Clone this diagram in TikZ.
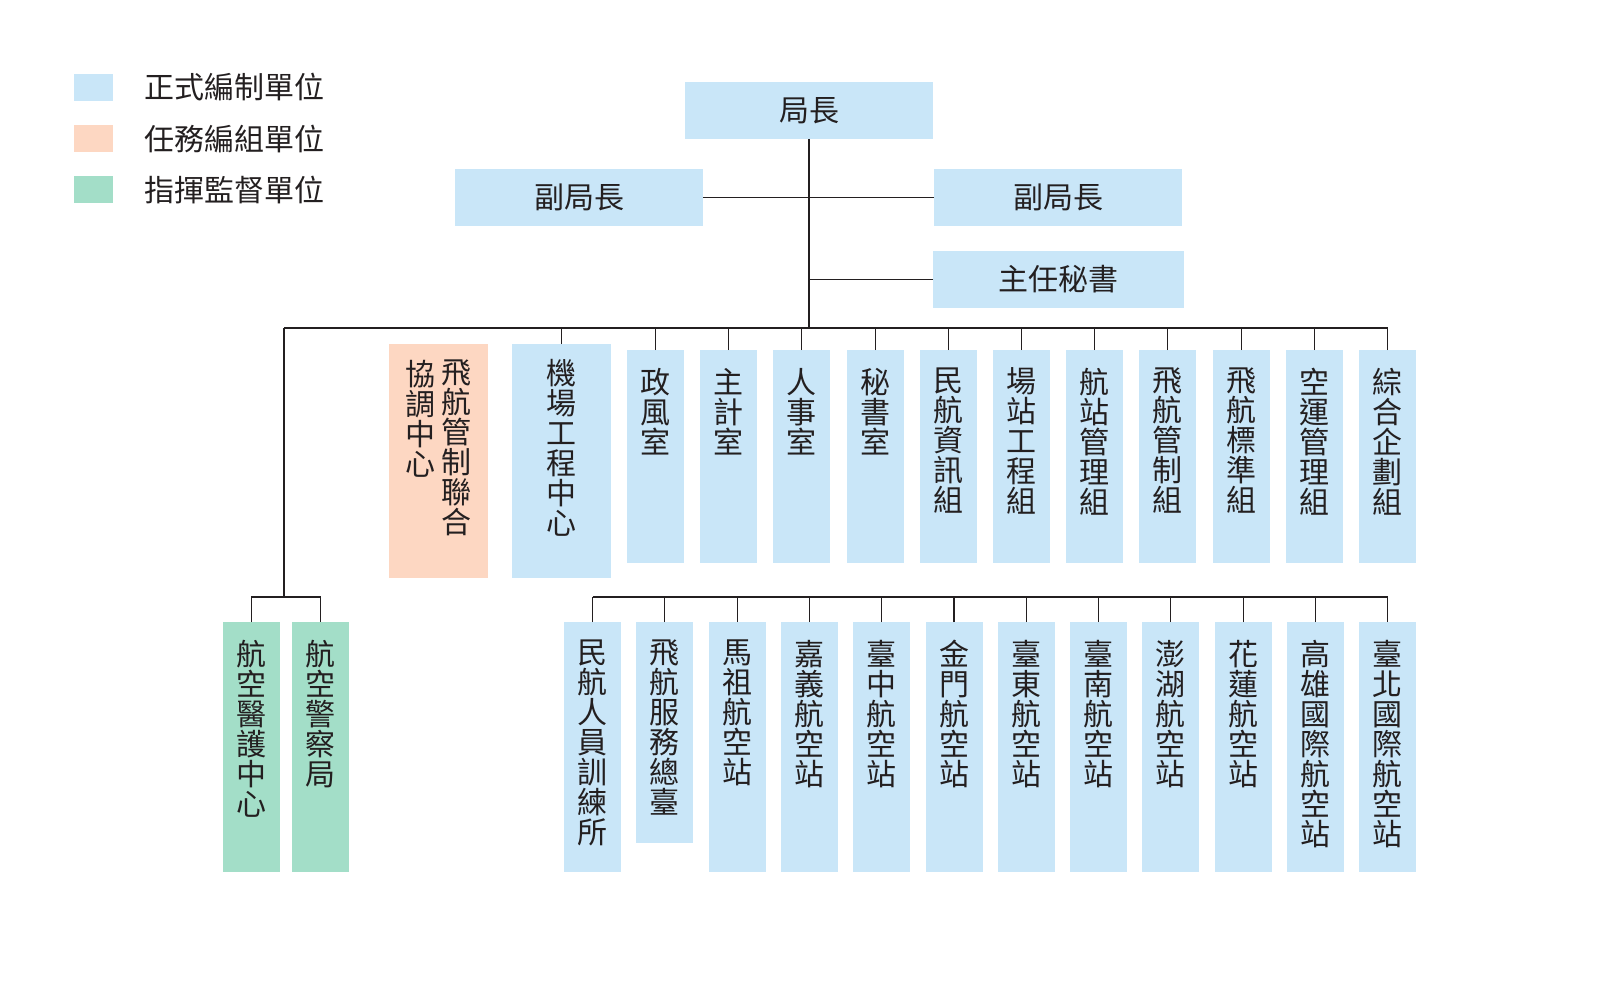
\documentclass[tikz,border=0pt]{standalone}
\usepackage{fontspec}
\setmainfont{Noto Sans CJK TC}
\definecolor{cblue}{HTML}{C9E6F8}
\definecolor{corange}{HTML}{FDD7C2}
\definecolor{cgreen}{HTML}{A3DEC8}
\definecolor{ink}{HTML}{231F20}
\tikzset{
  unit/.style={inner sep=0pt, outer sep=0pt, text=ink, font=\fontsize{30}{30}\selectfont},
  hbox/.style={unit, fill=cblue, minimum width=248pt, minimum height=57pt},
  colbox/.style={unit, anchor=north west, minimum width=57pt},
  bluecol/.style={colbox, fill=cblue},
  greencol/.style={colbox, fill=cgreen},
  vtext/.style={unit, anchor=north, align=center},
  conn/.style={draw=ink, line width=1.1pt},
  legsq/.style={inner sep=0pt, outer sep=0pt, minimum width=39pt, minimum height=27pt},
  legtxt/.style={unit, anchor=west},
}
\begin{document}
\begin{tikzpicture}[x=1pt,y=-1pt]
\useasboundingbox (0,0) rectangle (1600,1000);

% legend
\node[legsq, fill=cblue]   (l1) at (93.5,87.5) {};
\node[legsq, fill=corange] (l2) at (93.5,138.5) {};
\node[legsq, fill=cgreen]  (l3) at (93.5,190) {};
\node[legtxt] (lt1) at (144,87.5) {正式編制單位};
\node[legtxt] (lt2) at (144,138.5) {任務編組單位};
\node[legtxt] (lt3) at (144,190) {指揮監督單位};

% top management
\node[hbox] (chief) at (809,110.5) {局長};
\node[hbox] (dl) at (579,197.5) {副局長};
\node[hbox] (dr) at (1058,197.5) {副局長};
\node[hbox, minimum width=251pt] (sec) at (1058.5,279.5) {主任秘書};

\coordinate (busL) at (284,328);
\coordinate (busR) at (1387.5,328);
\coordinate (gbus) at (284,597);

\draw[conn] (chief.south) -- (chief.south |- busL);
\draw[conn] (dl.east) -- (dl.east -| chief.south);
\draw[conn] (dr.west) -- (dr.west -| chief.south);
\draw[conn] (sec.west) -- (sec.west -| chief.south);
\draw[conn] (busL) -- (busR);
\draw[conn] (busL) -- (gbus);

% task force (orange) and airport engineering centre
\node[colbox, fill=corange, minimum width=99pt, minimum height=234pt] (ox) at (389,344) {};
\node[vtext] (ox1) at ([yshift=-16pt]ox.north -| 456,0) {飛\\航\\管\\制\\聯\\合};
\node[vtext] (ox2) at ([yshift=-16pt]ox.north -| 420,0) {協\\調\\中\\心};
\node[bluecol, minimum width=99pt, minimum height=234pt] (ae) at (512,344) {};
\node[vtext] (aet) at ([yshift=-15pt]ae.north) {機\\場\\工\\程\\中\\心};
\draw[conn] (ae.north) -- (ae.north |- busL);

% top row
\foreach \i/\t in {0/{政\\風\\室},1/{主\\計\\室},2/{人\\事\\室},3/{秘\\書\\室},4/{民\\航\\資\\訊\\組},5/{場\\站\\工\\程\\組},6/{航\\站\\管\\理\\組},7/{飛\\航\\管\\制\\組},8/{飛\\航\\標\\準\\組},9/{空\\運\\管\\理\\組},10/{綜\\合\\企\\劃\\組}}{
  \node[bluecol, minimum height=213pt] (t\i) at (627+73.2*\i,350) {};
  \node[vtext] (tt\i) at ([yshift=-18pt]t\i.north) {\t};
  \draw[conn] (t\i.north) -- (t\i.north |- busL);
}

% supervised units (green)
\node[greencol, minimum height=250pt] (g1) at (223,622) {};
\node[vtext] (gt1) at ([yshift=-18pt]g1.north) {航\\空\\醫\\護\\中\\心};
\node[greencol, minimum height=250pt] (g2) at (292,622) {};
\node[vtext] (gt2) at ([yshift=-18pt]g2.north) {航\\空\\警\\察\\局};
\draw[conn] (g1.north) -- (g1.north |- gbus) -- (g2.north |- gbus) -- (g2.north);

% bottom row
\foreach \i/\t/\h in {0/{民\\航\\人\\員\\訓\\練\\所}/250,1/{飛\\航\\服\\務\\總\\臺}/221,2/{馬\\祖\\航\\空\\站}/250,3/{嘉\\義\\航\\空\\站}/250,4/{臺\\中\\航\\空\\站}/250,5/{金\\門\\航\\空\\站}/250,6/{臺\\東\\航\\空\\站}/250,7/{臺\\南\\航\\空\\站}/250,8/{澎\\湖\\航\\空\\站}/250,9/{花\\蓮\\航\\空\\站}/250,10/{高\\雄\\國\\際\\航\\空\\站}/250,11/{臺\\北\\國\\際\\航\\空\\站}/250}{
  \node[bluecol, minimum height=\h pt] (b\i) at (564+72.3*\i,622) {};
  \node[vtext] (bt\i) at ([yshift=-18pt]b\i.north) {\t};
  \draw[conn] (b\i.north) -- (b\i.north |- gbus);
}
\draw[conn] (b0.north |- gbus) -- (b11.north |- gbus);
\end{tikzpicture}
\end{document}
